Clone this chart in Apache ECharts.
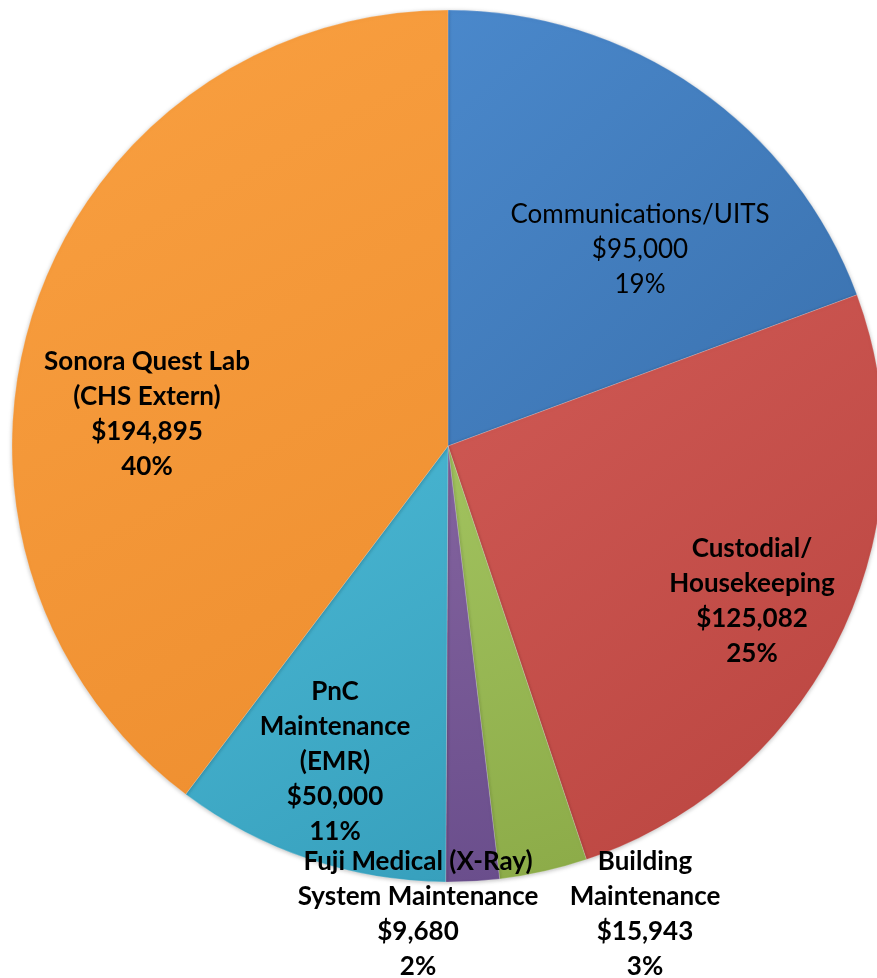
<!DOCTYPE html>
<html><head><meta charset="utf-8">
<script src="https://cdn.jsdelivr.net/npm/echarts@6/dist/echarts.min.js"></script>
<style>html,body{margin:0;padding:0;background:#fff}#c{width:877px;height:978px}</style>
</head><body><div id="c"></div>
<script>
const categories = ["Communications/UITS", "Custodial/\nHousekeeping", "Building\nMaintenance", "Fuji Medical (X-Ray)\nSystem Maintenance", "PnC\nMaintenance\n(EMR)", "Sonora Quest Lab\n(CHS Extern)"];
const values = [95000, 125082, 15943, 9680, 50000, 194895];
const percentLabels = ["19%", "25%", "3%", "2%", "11%", "40%"];

const colorPairs = [["#4a88cb", "#3a71ae"], ["#d05a55", "#b9443f"], ["#a2c35f", "#8cab48"], ["#84649f", "#6a4e8c"], ["#4bb8d4", "#37a0bd"], ["#f9a041", "#ee8e2f"]];
const labelPos = [[640, 250], [752, 601], [645, 914], [418, 914], [335, 762], [147, 414]];
const boldFlags = [false, true, true, true, true, true];

const chart = echarts.init(document.getElementById('c'), null, {renderer: 'canvas'});
const fmt = v => '$' + v.toLocaleString('en-US');
chart.setOption({
  backgroundColor: '#fff',
  animation: false,
  series: [{
    type: 'pie',
    center: [448, 446],
    radius: 436,
    startAngle: 90,
    clockwise: true,
    avoidLabelOverlap: false,
    labelLine: {show: false},
    data: categories.map((n, i) => ({
      name: n,
      value: values[i],
      itemStyle: {
        color: new echarts.graphic.LinearGradient(0, 0, 1, 1, [
          {offset: 0, color: colorPairs[i][0]},
          {offset: 1, color: colorPairs[i][1]}
        ]),
        borderColor: 'rgba(255,255,255,0.2)',
        borderWidth: 1,
        shadowColor: 'rgba(0,0,0,0.25)',
        shadowBlur: 4,
        shadowOffsetY: 1
      },
      label: {
        show: true,
        position: 'inside',
        formatter: p => p.name + '\n' + fmt(p.value) + '\n' + percentLabels[p.dataIndex],
        fontFamily: 'Lato',
        fontSize: 26,
        fontWeight: boldFlags[i] ? 'bold' : 'normal',
        lineHeight: 35,
        color: '#000',
        align: 'center'
      }
    })),
    labelLayout: p => ({
      x: labelPos[p.dataIndex][0],
      y: labelPos[p.dataIndex][1],
      align: 'center',
      verticalAlign: 'middle'
    })
  }]
});
</script></body></html>
